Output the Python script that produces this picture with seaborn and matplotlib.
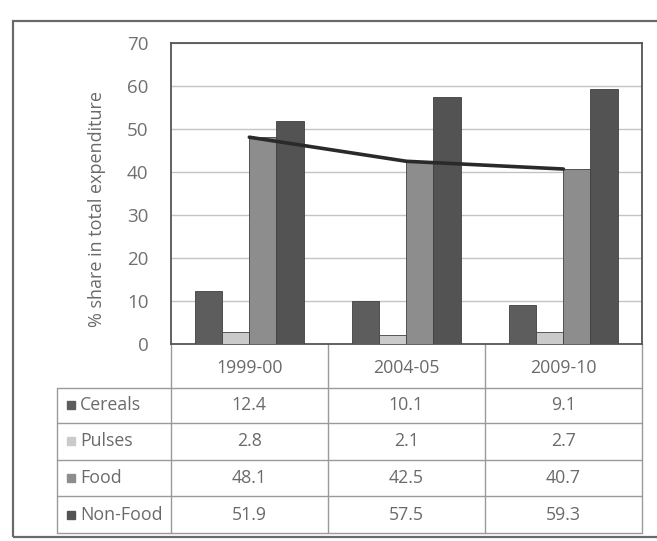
import numpy as np
import pandas as pd
import matplotlib
matplotlib.use("Agg")
import matplotlib.pyplot as plt
from matplotlib.patches import Rectangle
from matplotlib.transforms import blended_transform_factory
import seaborn as sns

# Share of items in total expenditure (%)
years = ["1999-00", "2004-05", "2009-10"]
items = ["Cereals", "Pulses", "Food", "Non-Food"]
cereals = [12.4, 10.1, 9.1]
pulses = [2.8, 2.1, 2.7]
food = [48.1, 42.5, 40.7]
non_food = [51.9, 57.5, 59.3]
y_ticks = [0, 10, 20, 30, 40, 50, 60, 70]

series = {"Cereals": cereals, "Pulses": pulses, "Food": food, "Non-Food": non_food}
df = pd.DataFrame(
    [(yr, name, vals[i]) for name, vals in series.items() for i, yr in enumerate(years)],
    columns=["Year", "Item", "Share"],
)

palette = {"Cereals": "#5d5d5d", "Pulses": "#cacaca", "Food": "#8d8d8d", "Non-Food": "#535353"}

sns.set_theme(style="white")
plt.rcParams["font.family"] = ["Open Sans", "DejaVu Sans"]

text_col = "#6a6a6a"
line_col = "#9a9a9a"
table_fs = 12.8

fig = plt.figure(figsize=(6.57, 5.41), dpi=100)
fig.patch.set_facecolor("white")
ax = fig.add_axes([0.260, 0.364, 0.717, 0.5565])

sns.barplot(data=df, x="Year", y="Share", hue="Item", hue_order=items,
            palette=palette, width=0.69, saturation=1, legend=False,
            edgecolor="#404040", linewidth=0.6, ax=ax, zorder=3)

# Food trend line across the years
sns.lineplot(x=np.arange(len(years)), y=food, color="#2a2a2a", linewidth=2.6,
             ax=ax, zorder=5)

ax.set_xlim(-0.5, len(years) - 0.5)
ax.set_ylim(0, 70)
ax.set_yticks(y_ticks)
ax.set_yticklabels([str(t) for t in y_ticks], fontsize=13.5, color="#707070")
ax.set_xticks([])
ax.set_xlabel("")
ax.tick_params(axis="y", length=0, pad=16)
ax.yaxis.grid(True, color="#c4c4c4", linewidth=1)
ax.set_axisbelow(True)
for s in ax.spines.values():
    s.set_color("#555555")
    s.set_linewidth(1.3)

ax.set_ylabel("% share in total expenditure", fontsize=13, color=text_col)
ax.yaxis.set_label_coords(-0.137, 0.45)

# Data table under the plot, columns aligned with the categories
tr_col = blended_transform_factory(ax.transData, ax.transAxes)
row_edges = [0.0, -0.146, -0.262, -0.385, -0.505, -0.628]
label_left = -0.242

for k in range(len(years) + 1):
    ax.plot([k - 0.5, k - 0.5], [0, row_edges[-1]], color=line_col, lw=1,
            transform=tr_col, clip_on=False)
for e in row_edges[1:]:
    ax.plot([label_left, 1.0], [e, e], color=line_col, lw=1,
            transform=ax.transAxes, clip_on=False)
ax.plot([label_left, label_left], [row_edges[1], row_edges[-1]], color=line_col,
        lw=1, transform=ax.transAxes, clip_on=False)

for i, yr in enumerate(years):
    ax.text(i, (row_edges[0] + row_edges[1]) / 2 - 0.005, yr, transform=tr_col,
            ha="center", va="center", fontsize=table_fs, color=text_col)

for r, name in enumerate(items):
    yc = (row_edges[r + 1] + row_edges[r + 2]) / 2
    ax.plot([label_left + 0.030], [yc], marker="s", markersize=6,
            color=palette[name], transform=ax.transAxes, clip_on=False)
    ax.text(label_left + 0.050, yc, name, transform=ax.transAxes,
            ha="left", va="center", fontsize=table_fs, color=text_col)
    for i, v in enumerate(series[name]):
        ax.text(i, yc, f"{v:.1f}", transform=tr_col, ha="center", va="center",
                fontsize=table_fs, color=text_col)

# Outer chart frame
fig.add_artist(Rectangle((13 / 657, 1 - 537 / 541), 1.0, (537 - 21) / 541,
                         transform=fig.transFigure, fill=False,
                         edgecolor="#6a6a6a", linewidth=1.6))

fig.savefig("out.png", dpi=100, facecolor="white")
